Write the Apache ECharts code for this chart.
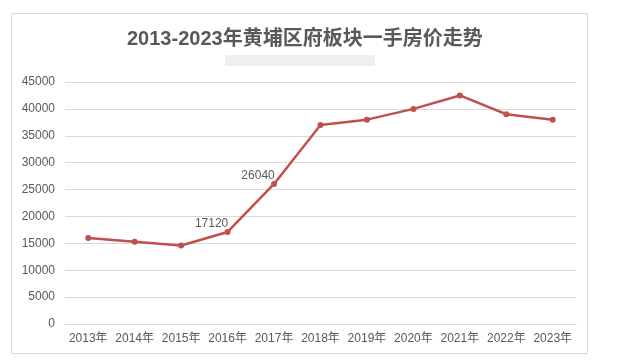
<!DOCTYPE html>
<html><head><meta charset="utf-8">
<script src="https://cdn.jsdelivr.net/npm/echarts@6/dist/echarts.min.js"></script>
<style>html,body{margin:0;padding:0;background:#fff}#c{width:621px;height:360px}</style>
</head><body><div id="c"></div>
<script>
const titleText = '2013-2023年黄埔区府板块一手房价走势';
const categories = ['2013年','2014年','2015年','2016年','2017年','2018年','2019年','2020年','2021年','2022年','2023年'];
const prices = [16000, 15300, 14600, 17120, 26040, 37000, 38000, 40000, 42500, 39000, 38000];
const labeledIdx = [3, 4];
const yTicks = [0, 5000, 10000, 15000, 20000, 25000, 30000, 35000, 40000, 45000];

const chart = echarts.init(document.getElementById('c'), null, {renderer: 'canvas'});
const data = prices.map((v, i) => labeledIdx.includes(i) ? {
  value: v,
  label: {show: true, position: 'top', offset: [-16, 6], color: '#595959', fontSize: 12, fontFamily: 'Liberation Sans, Arial, sans-serif'}
} : v);
chart.setOption({
  animation: false,
  title: {
    text: titleText, left: 122, top: 24,
    textStyle: {fontSize: 20, fontWeight: 'bold', color: '#595959', fontFamily: 'Liberation Sans, "Noto Sans CJK SC", sans-serif'}
  },
  graphic: [
    {type: 'rect', shape: {x: 11.5, y: 13.5, width: 576, height: 340}, style: {fill: 'none', stroke: '#d9d9d9', lineWidth: 1}, silent: true},
    {type: 'rect', shape: {x: 225, y: 55, width: 150, height: 11}, style: {fill: '#efefef'}, silent: true}
  ],
  grid: {left: 65, right: 45, top: 82, bottom: 36},
  xAxis: {
    type: 'category', data: categories, boundaryGap: true,
    axisLine: {lineStyle: {color: '#d9d9d9'}},
    axisTick: {show: false},
    axisLabel: {interval: 0, color: '#595959', fontSize: 12, margin: 9, fontFamily: 'Liberation Sans, "Noto Sans CJK SC", sans-serif'}
  },
  yAxis: {
    type: 'value', min: yTicks[0], max: yTicks[yTicks.length - 1], interval: yTicks[1] - yTicks[0],
    axisLine: {show: false}, axisTick: {show: false},
    splitLine: {lineStyle: {color: '#d9d9d9'}},
    axisLabel: {formatter: v => String(v), color: '#595959', fontSize: 12, margin: 10, fontFamily: 'Liberation Sans, Arial, sans-serif'}
  },
  series: [{
    type: 'line', data: data,
    symbol: 'circle', symbolSize: 6,
    lineStyle: {color: '#c0504d', width: 2.5},
    itemStyle: {color: '#c0504d'},
    label: {show: false}
  }]
});
</script></body></html>
